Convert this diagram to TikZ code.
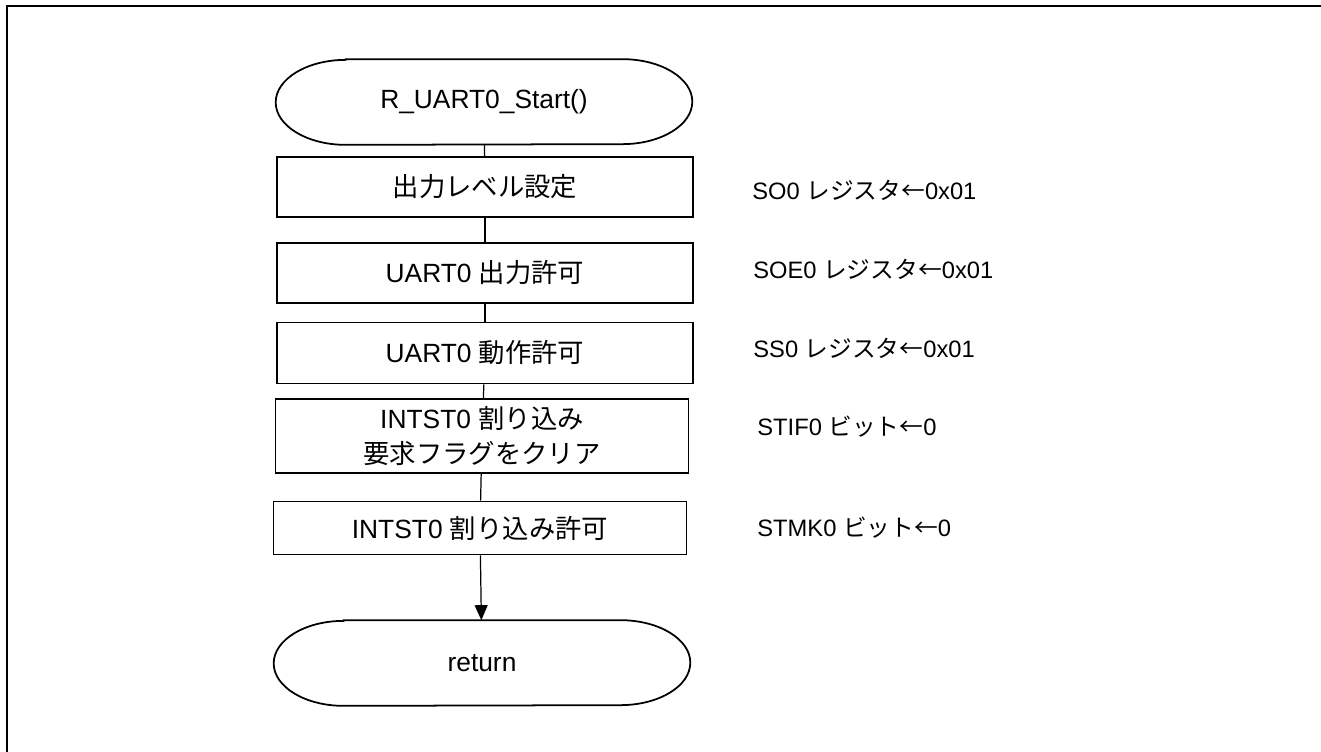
\documentclass[tikz,border=0pt]{standalone}
\usepackage{fontspec}
\setmainfont{Liberation Sans}
\newfontfamily\jp{Noto Sans CJK JP}
\usetikzlibrary{positioning, arrows.meta}

% outline of a terminal node: straight top and bottom, half-ellipse ends
\newcommand\termoutline[1]{%
  \draw[line width=1pt] ([xshift=1.4cm]#1.north west) -- ([xshift=-1.4cm]#1.north east)
    arc[start angle=90, end angle=-90, x radius=1.4cm, y radius=0.85cm]
    -- ([xshift=1.4cm]#1.south west)
    arc[start angle=270, end angle=90, x radius=1.4cm, y radius=0.85cm] -- cycle;}

\begin{document}
\begin{tikzpicture}[x=0.02cm, y=-0.02cm,
    font=\fontsize{15}{20}\selectfont,
    term/.style={rectangle, minimum width=8.32cm, minimum height=1.7cm, inner sep=0pt},
    proc/.style={rectangle, draw, line width=1pt, minimum width=8.32cm, inner sep=0pt, align=center},
    note/.style={anchor=west, inner sep=0pt, font=\fontsize{13.5}{16}\selectfont},
    conn/.style={line width=0.7pt}]
  \useasboundingbox (0,0) rectangle (1321,751);
  \draw[line width=1.3pt] (7,780) |- (1340,6);

  \node[term] (start) at (484,102) {R\_UART0\_Start()};
  \termoutline{start}
  \node[proc, minimum height=1.2cm] (setlvl) at (485,187) {{\jp 出力レベル設定}};
  \node[proc, minimum height=1.2cm] (outen) at (485,273) {UART0 {\jp 出力許可}};
  \node[proc, minimum height=1.22cm] (runen) at (485,353) {UART0 {\jp 動作許可}};
  \node[proc, minimum width=8.26cm, minimum height=1.48cm] (clrflag) at (482,436) {INTST0 {\jp 割り込み}\\{\jp 要求フラグをクリア}};
  \node[proc, minimum width=8.26cm, minimum height=1.06cm] (inten) at (480,528) {INTST0 {\jp 割り込み許可}};
  \node[term] (ret) at (482,663) {return};
  \termoutline{ret}

  \node[note] (n1) at (752,190) {SO0 {\jp レジスタ←}0x01};
  \node[note] (n2) at (753,269) {SOE0 {\jp レジスタ←}0x01};
  \node[note] (n3) at (753,348) {SS0 {\jp レジスタ←}0x01};
  \node[note] (n4) at (757,427) {STIF0 {\jp ビット←}0};
  \node[note] (n5) at (757,528) {STMK0 {\jp ビット←}0};

  \draw[conn] (start) -- (setlvl);
  \draw[conn] (setlvl) -- (outen);
  \draw[conn] (outen) -- (runen);
  \draw[conn] (runen) -- (clrflag);
  \draw[conn] (clrflag) -- (inten);
  \draw[conn, -{Triangle[width=0.26cm, length=0.3cm]}] (inten) -- (ret);
\end{tikzpicture}
\end{document}
